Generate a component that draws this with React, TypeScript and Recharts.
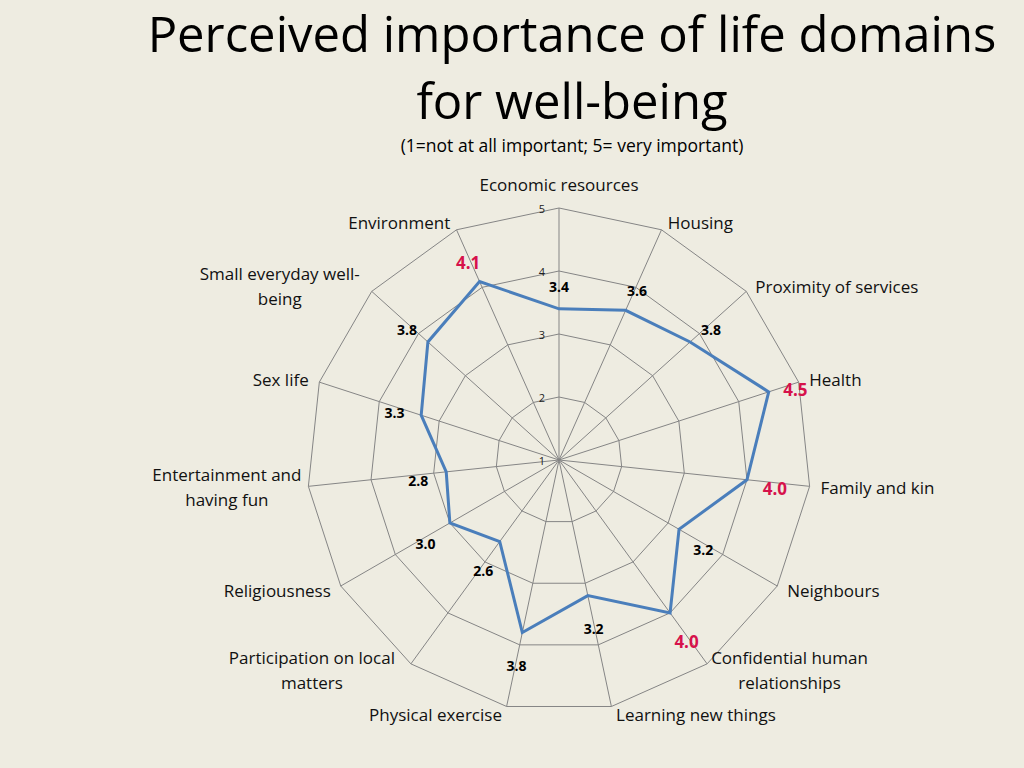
import React from 'react';
import {
  RadarChart,
  Radar,
  PolarGrid,
  PolarAngleAxis,
  PolarRadiusAxis,
  LabelList
} from 'recharts';

// life domains, clockwise from the top
const domains = [
  'Economic resources',
  'Housing',
  'Proximity of services',
  'Health',
  'Family and kin',
  'Neighbours',
  'Confidential human\nrelationships',
  'Learning new things',
  'Physical exercise',
  'Participation on local\nmatters',
  'Religiousness',
  'Entertainment and\nhaving fun',
  'Sex life',
  'Small everyday well-\nbeing',
  'Environment'
];

const importance = [3.4, 3.6, 3.8, 4.5, 4.0, 3.2, 4.0, 3.2, 3.8, 2.6, 3.0, 2.8, 3.3, 3.8, 4.1];

const scaleTicks = [1, 2, 3, 4, 5];
const highlightFrom = 4.0;

const data = domains.map((domain, i) => ({ domain, value: importance[i] }));

const CX = 559;
const CY = 460;
const FONT = '"Open Sans", sans-serif';

const DomainTick = (props: any) => {
  const { x: x0, y, textAnchor, payload } = props;
  const lines: string[] = String(payload.value).split('\n');
  const lh = 25;
  const x = textAnchor === 'start' ? x0 + 3 : textAnchor === 'end' ? x0 - 3 : x0;
  const top = Math.abs(x - CX) < 1 && y < CY;
  const baseY = top ? y - 16 : y;
  const startY = baseY - ((lines.length - 1) * lh) / 2;
  if (lines.length > 1) {
    const w = Math.max(...lines.map((l) => l.length)) * 8.3;
    const mx = textAnchor === 'end' ? x - w / 2 : textAnchor === 'start' ? x + w / 2 : x;
    return (
      <text fontFamily={FONT} fontSize={17} fill="#111" textAnchor="middle">
        {lines.map((l, i) => (
          <tspan key={i} x={mx} y={startY + i * lh} dominantBaseline="central">
            {l}
          </tspan>
        ))}
      </text>
    );
  }
  return (
    <text
      x={x}
      y={baseY}
      fontFamily={FONT}
      fontSize={17}
      fill="#111"
      textAnchor={textAnchor}
      dominantBaseline="central"
    >
      {lines[0]}
    </text>
  );
};

const ScaleTick = (props: any) => {
  const { x, y, payload } = props;
  return (
    <text x={x - 14} y={y} fontFamily={FONT} fontSize={11} fill="#222" textAnchor="end" dominantBaseline="central">
      {payload.value}
    </text>
  );
};

const ValueLabel = (props: any) => {
  const { x, y, value } = props;
  const dx = x - CX;
  const dy = y - CY;
  const d = Math.hypot(dx, dy) || 1;
  const off = 28;
  const hi = value >= highlightFrom;
  return (
    <text
      x={x + (dx / d) * off}
      y={y + (dy / d) * off + 6}
      textAnchor="middle"
      dominantBaseline="central"
      fontFamily={FONT}
      fontWeight="bold"
      fontSize={hi ? 17 : 14}
      fill={hi ? '#D6124B' : '#000'}
    >
      {Number(value).toFixed(1)}
    </text>
  );
};

const titleLine: React.CSSProperties = {
  position: 'absolute',
  left: 120,
  width: 904,
  height: 66,
  textAlign: 'center',
  fontSize: 49,
  lineHeight: '66px',
  color: '#000',
  whiteSpace: 'nowrap'
};

export default function App() {
  return (
    <div
      style={{
        position: 'fixed',
        left: 0,
        top: 0,
        width: 1024,
        height: 768,
        background: '#EEECE1',
        fontFamily: FONT,
        overflow: 'hidden'
      }}
    >
      <div style={{ ...titleLine, top: 0 }}>Perceived importance of life domains</div>
      <div style={{ ...titleLine, top: 67 }}>for well-being</div>
      <div
        style={{
          position: 'absolute',
          left: 120,
          width: 904,
          top: 133,
          textAlign: 'center',
          fontSize: 17.5,
          lineHeight: '24px',
          color: '#000'
        }}
      >
        (1=not at all important; 5= very important)
      </div>
      <div style={{ position: 'absolute', left: 0, top: 0 }}>
        <RadarChart width={1024} height={768} data={data} cx={CX} cy={CY} outerRadius={252} startAngle={90} endAngle={-270}>
          <PolarGrid gridType="polygon" stroke="#858585" strokeWidth={1} />
          <PolarAngleAxis dataKey="domain" tick={DomainTick} tickLine={false} axisLine={false} />
          <PolarRadiusAxis
            angle={90}
            domain={[1, 5]}
            ticks={scaleTicks as any}
            tickCount={5}
            axisLine={false}
            tick={ScaleTick}
          />
          <Radar
            dataKey="value"
            stroke="#4A7EBB"
            strokeWidth={3}
            fill="none"
            fillOpacity={0}
            dot={false}
            isAnimationActive={false}
          >
            <LabelList dataKey="value" content={ValueLabel} />
          </Radar>
        </RadarChart>
      </div>
    </div>
  );
}
